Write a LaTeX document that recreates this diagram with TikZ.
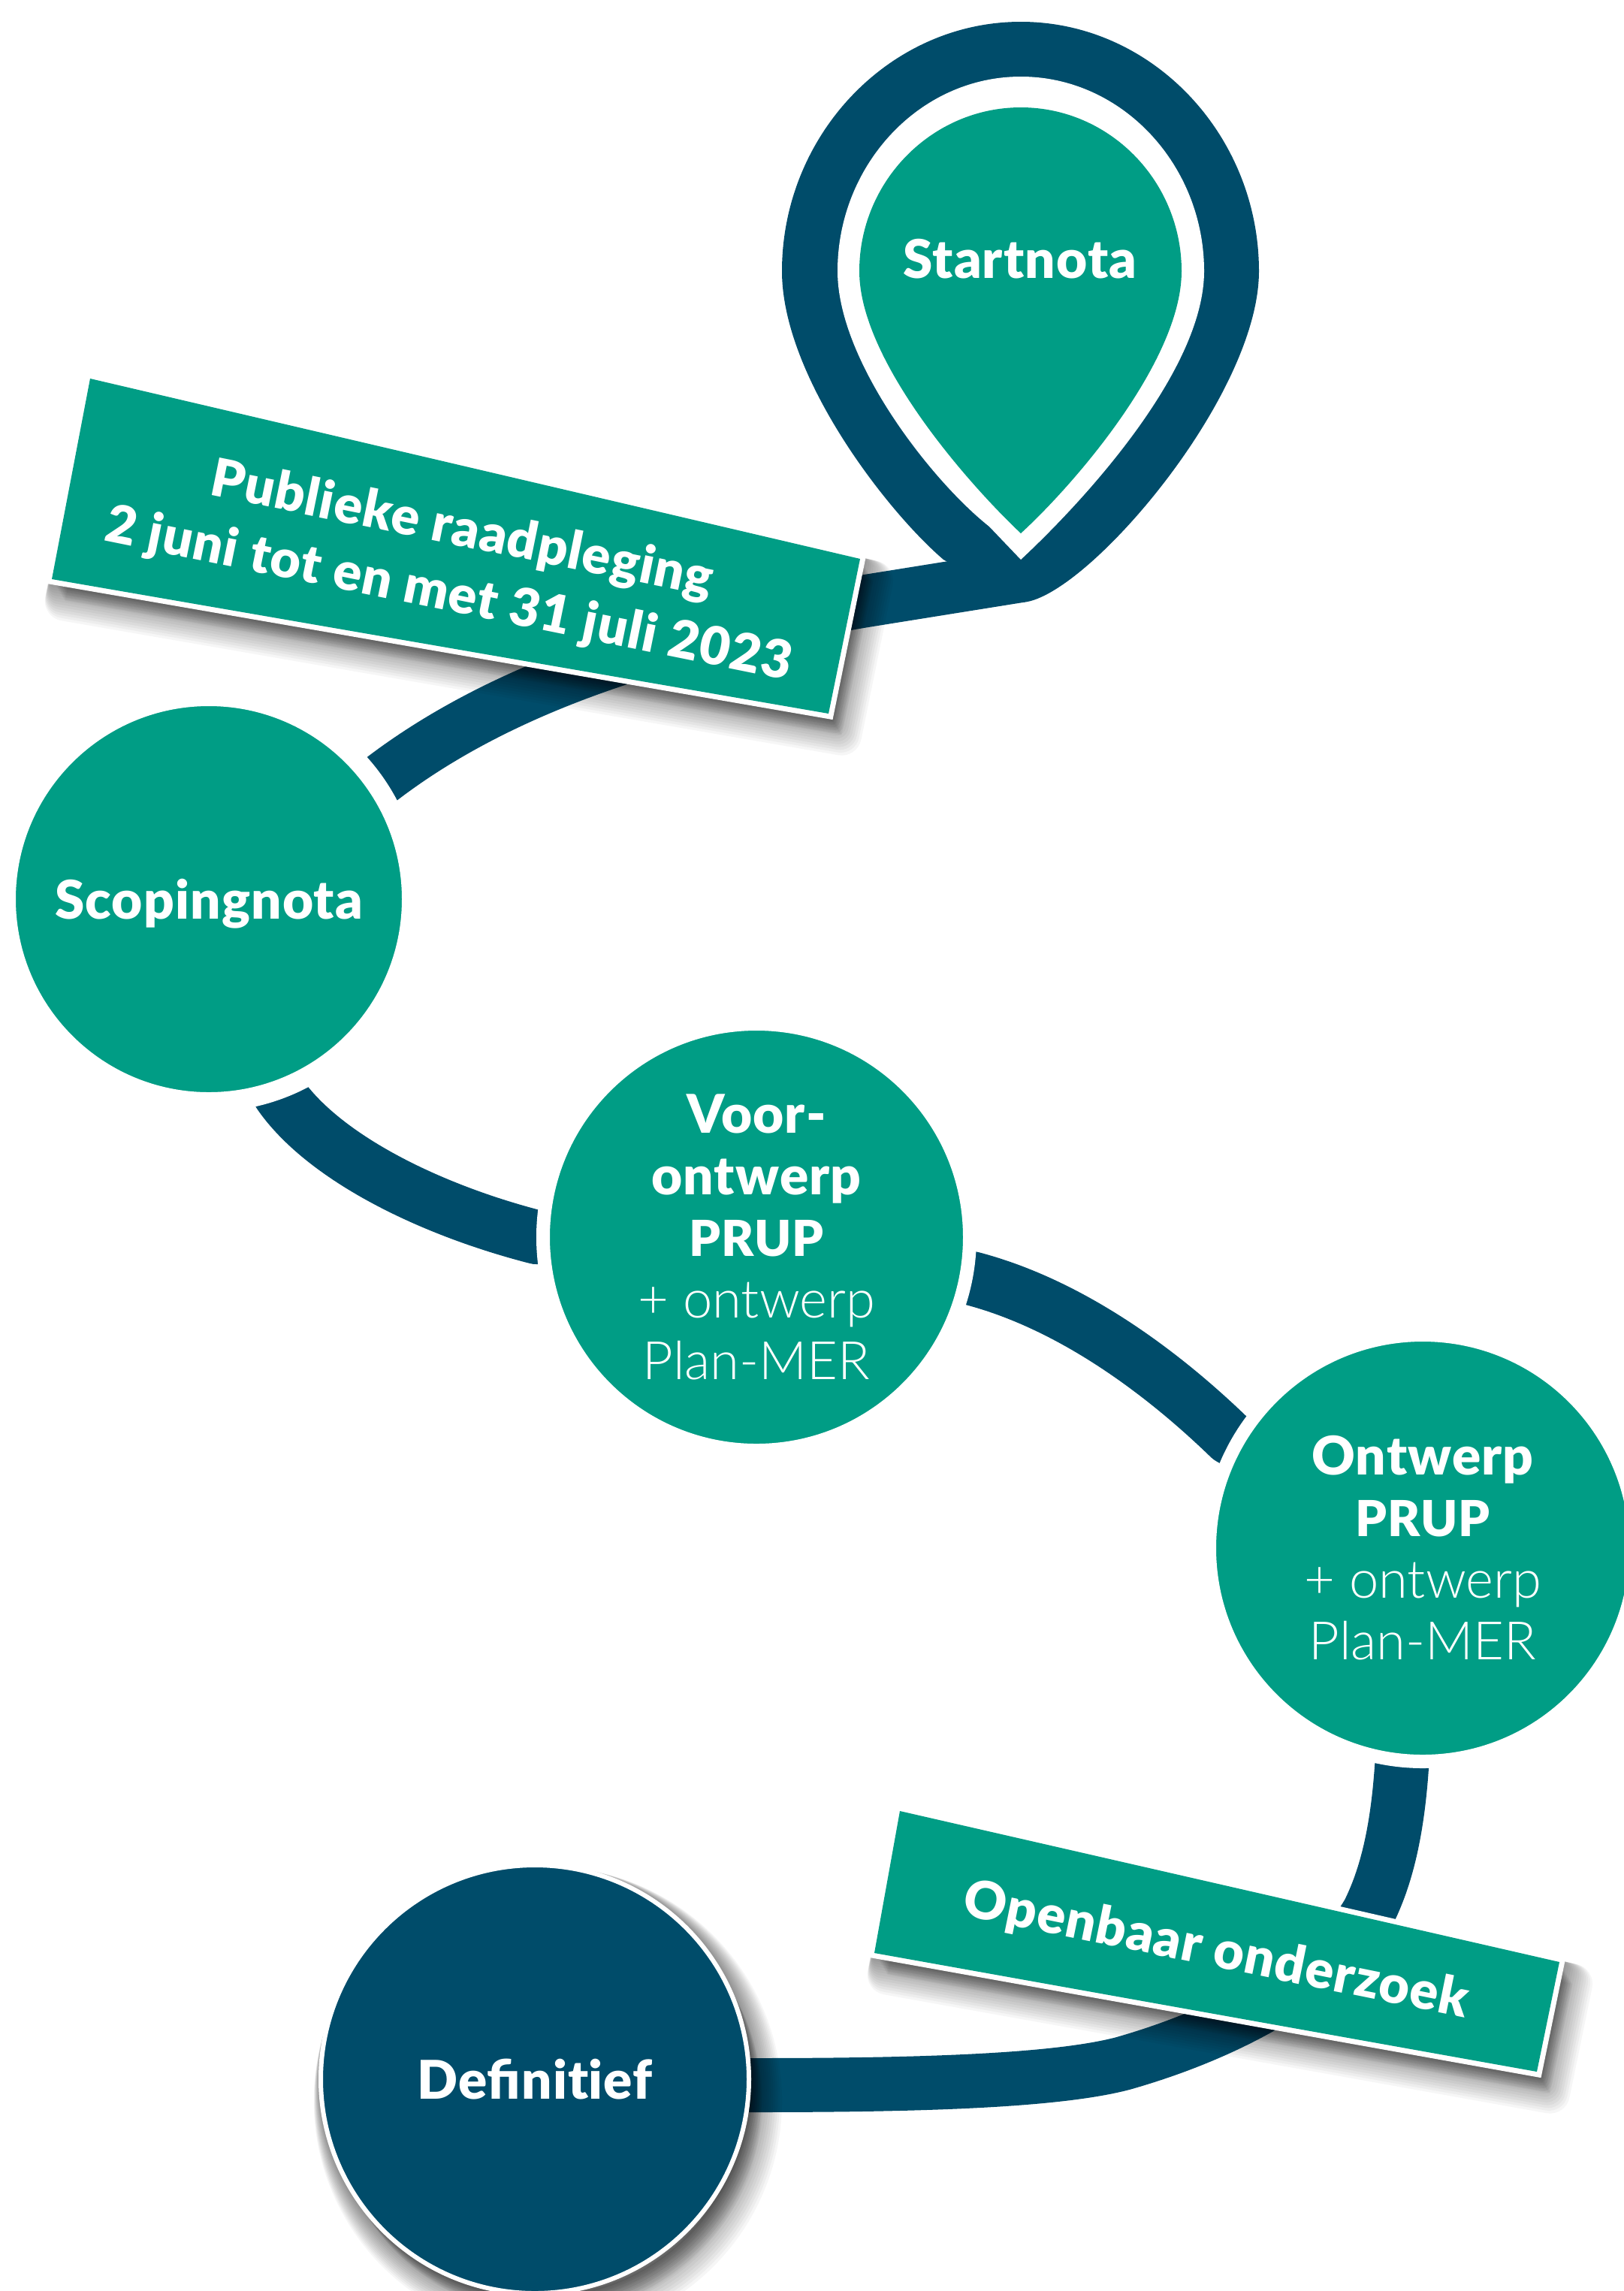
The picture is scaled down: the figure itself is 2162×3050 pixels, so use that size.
\documentclass[tikz,border=0pt]{standalone}
\usepackage{fontspec}
\newfontfamily\hv[LetterSpace=1.7]{Lato Black}
\newfontfamily\lt{Lato Light}
\definecolor{teal}{RGB}{0,157,133}
\definecolor{navy}{RGB}{0,76,106}
\newcommand{\prup}{{\fontsize{66}{82}\selectfont PRUP}}
\newcommand{\lighttext}[1]{{\lt\fontsize{70.5}{82}\selectfont #1}}
\tikzset{
  conn/.style={draw=navy,line width=72pt,line cap=butt,line join=round},
  stop/.style={circle,outer sep=0pt,inner sep=0pt,fill=teal,draw=white,text=white,align=center,minimum size=#1},
  bold/.style={font=\hv\fontsize{71}{82}\selectfont},
  bannertext/.style={text=white,align=center,font=\hv\fontsize{70}{88}\selectfont,inner sep=0pt},
  bannerrim/.style={draw=white,line width=14pt,line join=miter},
  bannerfill/.style={fill=teal},
  lay/.style={fill=black,draw=black,line join=round,opacity=.036}
}
\newcommand{\softshadow}[1]{%
  \foreach \s [evaluate=\s as \w using 1.7*\s+4, evaluate=\s as \sx using .6*\s] in {1,3,...,29}{
    \path[lay,line width=\w pt,shift={(\sx,\s)}] #1;
  }%
}
\begin{document}
\begin{tikzpicture}[x=1pt,y=-1pt]
\useasboundingbox (0,0) rectangle (2162,3050);
\fill[white] (0,0) rectangle (2162,3050);
% named anchors along the route
\coordinate (tip) at (1359,767);
\coordinate (bend1) at (1147,801);
\coordinate (r1) at (507,1038);
\coordinate (r2) at (372,1456);
\coordinate (r3) at (1294,1702);
\coordinate (r4) at (1866,2353);
\coordinate (r5) at (1822,2546);
\coordinate (r6) at (1495,2747);
\coordinate (scopingc) at (278,1197);
\coordinate (voorc) at (1007,1647);
\coordinate (ontwerpc) at (1894,2061);
\coordinate (definitiefc) at (712,2768);
% connectors
\draw[conn,line width=70pt] (tip) -- (bend1) .. controls (960,833) and (700,890) .. (r1) -- (scopingc);
\draw[conn] (scopingc) -- (r2) .. controls (430,1540) and (570,1610) .. (714,1647) -- (voorc);
\draw[conn] (voorc) -- (r3) .. controls (1420,1735) and (1540,1820) .. (1637,1914) -- (ontwerpc);
\draw[conn] (ontwerpc) -- (r4) .. controls (1860,2440) and (1845,2500) .. (r5) .. controls (1780,2620) and (1660,2700) .. (r6) .. controls (1400,2772) and (1200,2776) .. (996,2776) -- (definitiefc);
% banner shadows
\softshadow{(120,504) -- (1145,744) -- (1103,950) -- (69,771) -- cycle}
\softshadow{(1198,2411) -- (2076,2612) -- (2046,2758) -- (1164,2600) -- cycle}
% banners
\path[bannerrim] (120,504) -- (1145,744) -- (1103,950) -- (69,771) -- cycle;
\path[bannerfill] (120,504) -- (1145,744) -- (1103,950) -- (69,771) -- cycle;
\path[bannerrim] (1198,2411) -- (2076,2612) -- (2046,2758) -- (1164,2600) -- cycle;
\path[bannerfill] (1198,2411) -- (2076,2612) -- (2046,2758) -- (1164,2600) -- cycle;
\node[bannertext,rotate=-11.5] (raadpleging) at (606,750) {Publieke raadpleging\\2 juni tot en met 31 juli 2023};
\node[bannertext,rotate=-11.5] (openbaar) at (1619,2598) {Openbaar onderzoek};
% pin
\fill[navy] (1359,29) .. controls (1184,29) and (1041,180) .. (1041,361) .. controls (1041,500) and (1180,680) .. (1256,745) -- (1359,802) .. controls (1440,802) and (1676,530) .. (1676,361) .. controls (1676,180) and (1534,29) .. (1359,29) -- cycle;
\fill[white] (1359,102) .. controls (1224,102) and (1115,220) .. (1115,361) .. controls (1115,480) and (1240,640) .. (1317,701) -- (1359,745) .. controls (1450,660) and (1603,490) .. (1603,361) .. controls (1603,220) and (1494,102) .. (1359,102) -- cycle;
\fill[teal] (1359,143) .. controls (1241,143) and (1144,241) .. (1144,361) .. controls (1144,480) and (1290,645) .. (1359,710) .. controls (1430,645) and (1573,480) .. (1573,361) .. controls (1573,241) and (1477,143) .. (1359,143) -- cycle;
\node[text=white,bold,inner sep=0pt] (startnota) at (1358,345) {Startnota};
% circles
\node[stop=540pt,line width=26pt,bold,text depth=0pt] (scoping) at (scopingc) {Scopingnota};
\node[stop=568pt,line width=18pt,bold] (voor) at (voorc) {Voor-\\ontwerp\\\prup\\\lighttext{+ ontwerp}\\\lighttext{Plan-MER}};
\node[stop=568pt,line width=18pt,bold] (ontwerp) at (ontwerpc) {Ontwerp\\\prup\\\lighttext{+ ontwerp}\\\lighttext{Plan-MER}};
\softshadow{(712,2768) circle[radius=285pt]}
\node[circle,outer sep=0pt,inner sep=0pt,minimum size=570pt,fill=navy,draw=white,line width=6pt,text=white,bold] (definitief) at (definitiefc) {Definit\kern0pt ief};
\end{tikzpicture}
\end{document}
